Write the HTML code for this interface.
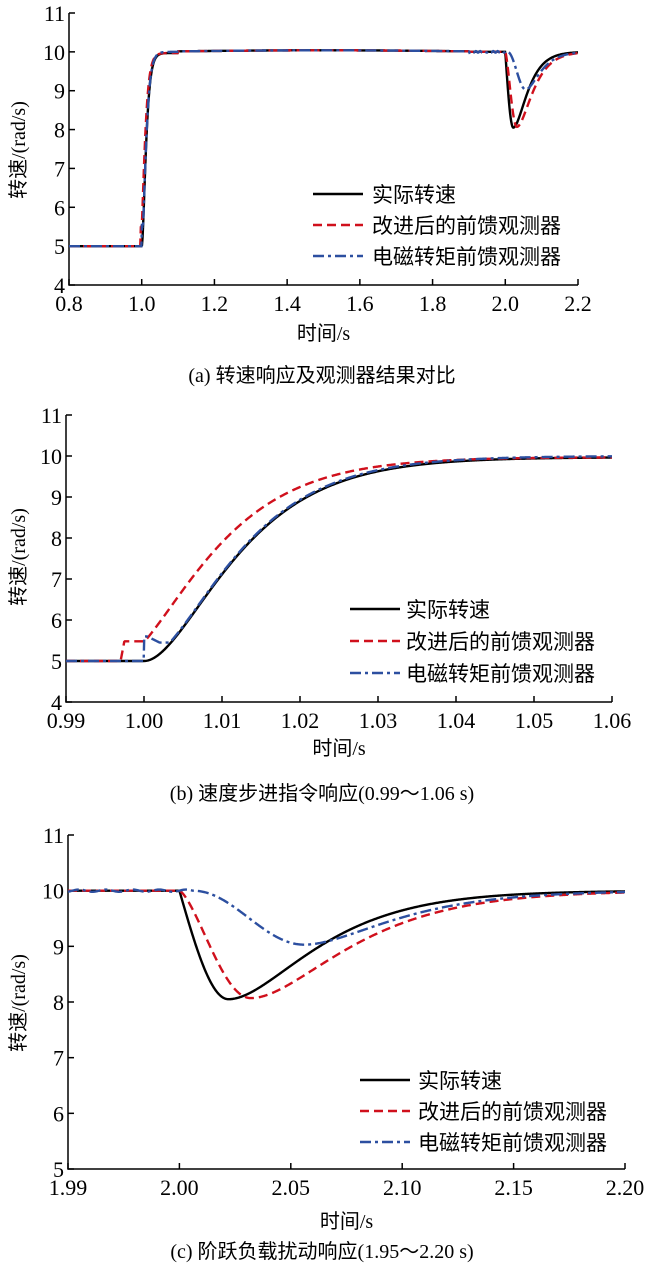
<!DOCTYPE html>
<html><head><meta charset="utf-8"><style>
html,body{margin:0;padding:0;background:#fff;}
svg text{font-family:"Liberation Serif","Noto Serif CJK SC",serif;fill:#000;}
.cj{font-family:"Liberation Serif","Noto Sans CJK SC",sans-serif;}
</style></head><body>
<svg id="s" width="645" height="1270" xmlns="http://www.w3.org/2000/svg"></svg>
<script>
const S=document.getElementById('s');let H='';
function bStep(x){const t=x-1.0;if(t<=0)return 5;const u=t/0.0069;return 5+4.97*(1-(1+u)*Math.exp(-u));}
function rStep(x){if(x<0.997)return 5;const v=bStep(x+0.0035);const h=x<0.9975?5+0.5*(x-0.997)/0.0005:5.48;return Math.max(v,h);}
function blStep(x){if(x<1.0)return 5;if(x<1.0004)return 5.6;return Math.max(bStep(x)+0.03,5.45+ (x<1.002?0.15*(1.002-x)/0.0016:0));}
function dip(x,A,t0,tp,t2,p){const t=x-t0;if(t<=0)return 10;if(t<tp)return 10-A*Math.pow(Math.sin(Math.PI/2*t/tp),p);const v=(t-tp)/t2;return 10-A*(1+v)*Math.exp(-v);}
function bD(x){return dip(x,1.95,2.0,0.022,0.025,1);}
function rD(x){return dip(x,1.93,2.0,0.032,0.028,1.4);}
function blD(x){if(x<2.006)return 10+0.02*Math.sin(Math.PI*(x-2.0)/0.006);return dip(x,0.97,2.006,0.05,0.026,2);}
function path(f,x0,x1,X,Y,col,dash){let d='';const n=900;for(let i=0;i<=n;i++){const x=x0+(x1-x0)*i/n;d+=(i?'L':'M')+X(x).toFixed(2)+','+Y(f(x)).toFixed(2);}
H+=`<path d="${d}" fill="none" stroke="${col}" stroke-width="2.4" ${dash?'stroke-dasharray="'+dash+'"':''}/>`;}
const RD='9,5',BD='11,4,3,4';
function axes(p){const {xl,xr,xa,xb,yt,yb,ya,yb2,xt,ylabCY,xlabY,cap,capY,leg}=p;
const X=x=>xl+(x-xa)/(xb-xa)*(xr-xl),Y=y=>yb-(y-ya)/(yb2-ya)*(yb-yt);
H+=`<path d="M${xl},${yt}V${yb}H${xr}" fill="none" stroke="#000" stroke-width="1.5"/>`;
xt.forEach(v=>{H+=`<line x1="${X(v[0])}" y1="${yb}" x2="${X(v[0])}" y2="${yb-6}" stroke="#000" stroke-width="1.5"/><text x="${X(v[0])}" y="${yb+26}" font-size="22" text-anchor="middle">${v[1]}</text>`;});
yticks=p.yticks;yticks.forEach(v=>{H+=`<line x1="${xl}" y1="${Y(v)}" x2="${xl+6}" y2="${Y(v)}" stroke="#000" stroke-width="1.5"/><text x="${xl-4}" y="${Y(v)+8}" font-size="22" text-anchor="end">${v}</text>`;});
H+=`<text class="cj" transform="translate(25,${ylabCY}) rotate(-90)" font-size="20" text-anchor="middle">转速/(rad/s)</text>`;
H+=`<text class="cj" x="${(xl+xr)/2}" y="${xlabY}" font-size="20" text-anchor="middle">时间/s</text>`;
H+=`<text class="cj" x="322" y="${capY}" font-size="20" text-anchor="middle">${cap}</text>`;
const L=[['#000',''],['#d0101c',RD],['#2c4fa0',BD]],T=['实际转速','改进后的前馈观测器','电磁转矩前馈观测器'];
L.forEach((l,i)=>{const y=leg[2]+i*leg[3];H+=`<line x1="${leg[0]}" y1="${y}" x2="${leg[0]+50}" y2="${y}" stroke="${l[0]}" stroke-width="2.4" ${l[1]?'stroke-dasharray="'+l[1]+'"':''}/><text class="cj" x="${leg[1]}" y="${y+8}" font-size="21">${T[i]}</text>`;});
return [X,Y];}
let [X,Y]=axes({xl:69,xr:578,xa:0.8,xb:2.2,yt:13,yb:285,ya:4,yb2:11,xt:[[0.8,'0.8'],[1.0,'1.0'],[1.2,'1.2'],[1.4,'1.4'],[1.6,'1.6'],[1.8,'1.8'],[2.0,'2.0'],[2.2,'2.2']],yticks:[4,5,6,7,8,9,10,11],ylabCY:150,xlabY:340,cap:'(a) 转速响应及观测器结果对比',capY:382,leg:[313,372,194,31]});
function fa(g,d){return x=>x<1.9?(x<1.1?g(x):10+0.04*Math.sin(Math.PI*(x-1.0)/1.0)):d(x);}
path(fa(bStep,bD),0.8,2.2,X,Y,'#000','');
path(fa(rStep,rD),0.8,2.2,X,Y,'#d0101c',RD);
path(fa(blStep,blD),0.8,2.2,X,Y,'#2c4fa0',BD);
[X,Y]=axes({xl:66,xr:612,xa:0.99,xb:1.06,yt:415,yb:702,ya:4,yb2:11,xt:[[0.99,'0.99'],[1.0,'1.00'],[1.01,'1.01'],[1.02,'1.02'],[1.03,'1.03'],[1.04,'1.04'],[1.05,'1.05'],[1.06,'1.06']],yticks:[4,5,6,7,8,9,10,11],ylabCY:557,xlabY:755,cap:'(b) 速度步进指令响应(0.99～1.06 s)',capY:800,leg:[350,406,609,32]});
path(bStep,0.99,1.06,X,Y,'#000','');
path(x=>x<0.997?5:rStep(x),0.99,1.06,X,Y,'#d0101c',RD);
path(blStep,0.99,1.06,X,Y,'#2c4fa0',BD);
[X,Y]=axes({xl:68,xr:625,xa:1.95,xb:2.20,yt:835,yb:1169,ya:5,yb2:11,xt:[[1.95,'1.99'],[2.0,'2.00'],[2.05,'2.05'],[2.1,'2.10'],[2.15,'2.15'],[2.2,'2.20']],yticks:[5,6,7,8,9,10,11],ylabCY:1003,xlabY:1228,cap:'(c) 阶跃负载扰动响应(1.95～2.20 s)',capY:1258,leg:[360,418,1080,31]});
path(bD,1.95,2.2,X,Y,'#000','');
path(rD,1.95,2.2,X,Y,'#d0101c',RD);
path(blD,1.95,2.2,X,Y,'#2c4fa0',BD);
S.innerHTML=H;
</script>
</body></html>
